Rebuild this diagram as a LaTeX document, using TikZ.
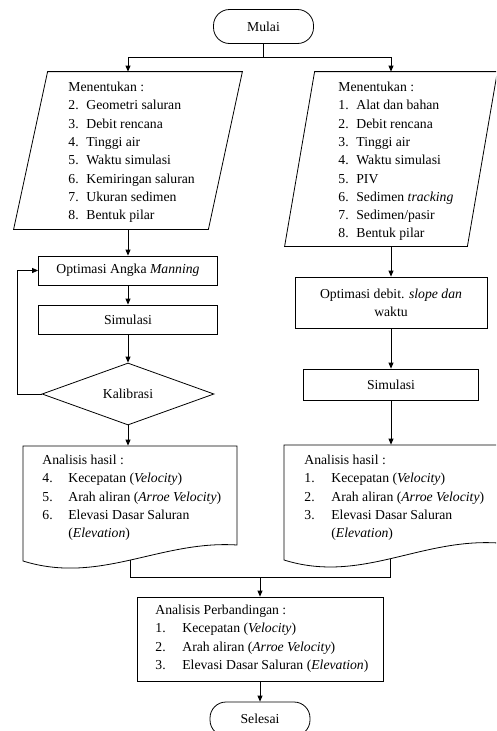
\documentclass[tikz,border=0pt]{standalone}
\usepackage{fontspec}
\setmainfont{Liberation Serif}
\usetikzlibrary{arrows.meta,shapes.geometric}
\begin{document}
\begin{tikzpicture}[x=1pt,y=-1pt,
  line width=0.8pt,
  every node/.style={font=\fontsize{13.7}{18.3}\selectfont},
  arr/.style={-{Triangle[length=6pt,width=5pt]}},
  term/.style={draw, rounded corners=16pt, minimum width=100pt, minimum height=34pt, inner sep=0pt},
  box/.style={draw, inner sep=0pt, align=center},
  holder/.style={draw=none, inner sep=0pt},
  txt/.style={anchor=base west, inner sep=0pt, align=left},
  dia/.style={draw, diamond, aspect=2.77, minimum width=172pt, minimum height=62pt, inner sep=0pt}]

\useasboundingbox (0,0) rectangle (496,731);
\clip (0,0) rectangle (496,731);

% start
\node[term] (start) at (263.5,26.5) {Mulai};
\coordinate (split) at (263.5,57);

% left input parallelogram
\node[holder, minimum width=194pt, minimum height=157pt] (in1) at (128,150.5) {};
\draw ([xshift=17pt]in1.north west) -- ([xshift=17pt]in1.north east)
   -- ([xshift=-17pt]in1.south east) -- ([xshift=-17pt]in1.south west) -- cycle;
\node[txt] (t1) at (68,91.5) {\begin{tabular}[t]{@{}l@{\hspace{7.7pt}}l@{}}
\multicolumn{2}{@{}l@{}}{Menentukan :}\\
2. & Geometri saluran\\
3. & Debit rencana\\
4. & Tinggi air\\
5. & Waktu simulasi\\
6. & Kemiringan saluran\\
7. & Ukuran sedimen\\
8. & Bentuk pilar
\end{tabular}};

% right input parallelogram
\node[holder, minimum width=182pt, minimum height=174pt] (in2) at (391,159) {};
\draw ([xshift=15pt]in2.north west) -- ([xshift=15pt]in2.north east)
   -- ([xshift=-15pt]in2.south east) -- ([xshift=-15pt]in2.south west) -- cycle;
\node[txt] (t2) at (338,91.5) {\begin{tabular}[t]{@{}l@{\hspace{7.7pt}}l@{}}
\multicolumn{2}{@{}l@{}}{Menentukan :}\\
1. & Alat dan bahan\\
2. & Debit rencana\\
3. & Tinggi air\\
4. & Waktu simulasi\\
5. & PIV\\
6. & Sedimen \textit{tracking}\\
7. & Sedimen/pasir\\
8. & Bentuk pilar
\end{tabular}};

% left branch
\node[box, minimum width=179pt, minimum height=29pt] (opt1) at (128,270.5) {Optimasi Angka \textit{Manning}};
\node[box, minimum width=179pt, minimum height=29pt] (sim1) at (128,319.5) {Simulasi};
\node[dia] (cal) at (128,394) {Kalibrasi};

% right branch
\node[box, minimum width=192pt, minimum height=51pt] (opt2) at (391,302.5) {Optimasi debit. \textit{slope dan}\\waktu};
\node[box, minimum width=175pt, minimum height=31pt] (sim2) at (391,384.5) {Simulasi};

% left document
\node[holder, minimum width=214pt, minimum height=115pt] (doc1) at (130,503.5) {};
\draw (23,446) -- (237,446) -- (237,545) .. controls (160,540) and (100,585) .. (23,561) coordinate[pos=0.5] (w1) -- cycle;
\node[txt] (t3) at (42,464.5) {\begin{tabular}[t]{@{}l@{\hspace{15.7pt}}l@{}}
\multicolumn{2}{@{}l@{}}{Analisis hasil :}\\
4. & Kecepatan (\textit{Velocity})\\
5. & Arah aliran (\textit{Arroe Velocity})\\
6. & Elevasi Dasar Saluran\\
   & (\textit{Elevation})
\end{tabular}};

% right document
\node[holder, minimum width=214pt, minimum height=115pt] (doc2) at (391,502.5) {};
\draw (284,445) -- (498,445) -- (498,543) .. controls (420,538) and (361,584) .. (284,560) coordinate[pos=0.5] (w2) -- cycle;
\node[txt] (t4) at (304,464.5) {\begin{tabular}[t]{@{}l@{\hspace{16.7pt}}l@{}}
\multicolumn{2}{@{}l@{}}{Analisis hasil :}\\
1. & Kecepatan (\textit{Velocity})\\
2. & Arah aliran (\textit{Arroe Velocity})\\
3. & Elevasi Dasar Saluran\\
   & (\textit{Elevation})
\end{tabular}};

% comparison
\node[draw, minimum width=246pt, minimum height=84pt, inner sep=0pt] (cmp) at (260,639) {};
\node[txt] (t5) at (155,614.5) {\begin{tabular}[t]{@{}l@{\hspace{16.7pt}}l@{}}
\multicolumn{2}{@{}l@{}}{Analisis Perbandingan :}\\
1. & Kecepatan (\textit{Velocity})\\
2. & Arah aliran (\textit{Arroe Velocity})\\
3. & Elevasi Dasar Saluran (\textit{Elevation})
\end{tabular}};

% end
\node[term] (end) at (260,719) {Selesai};

% connectors
\draw (start) -- (split);
\draw[arr] (split) -| (in1);
\draw[arr] (split) -| (in2);
\draw[arr] (in1) -- (opt1);
\draw[arr] (opt1) -- (sim1);
\draw[arr] (sim1) -- (cal);
\draw[arr] (cal.south) -- (cal.south |- doc1.north);
\draw[arr] (cal.west) -- ++(-24,0) |- (opt1.west);
\draw[arr] (in2) -- (opt2);
\draw[arr] (opt2) -- (sim2);
\draw[arr] (sim2.south) -- (sim2.south |- doc2.north);
\coordinate (join) at (260,577);
\draw (w1) |- (join);
\draw (w2) |- (join);
\draw[arr] (join) -- (cmp);
\draw[arr] (cmp) -- (end);
\end{tikzpicture}
\end{document}
